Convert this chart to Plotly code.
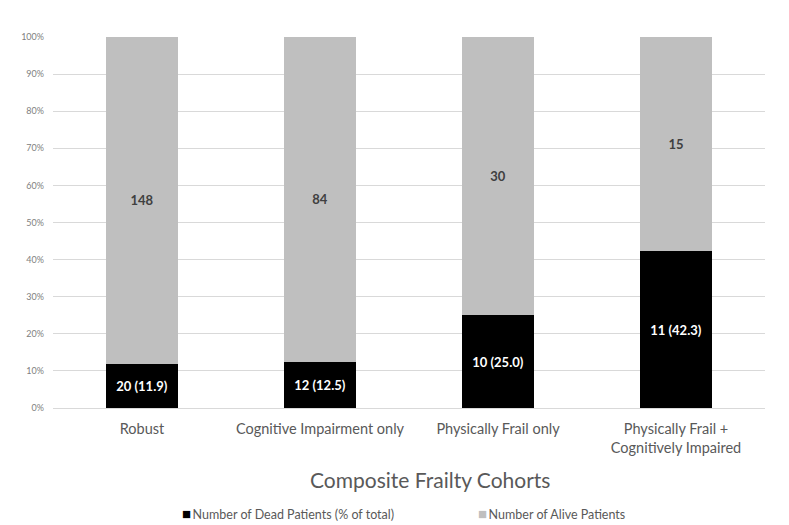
import plotly.graph_objects as go

categories = ["Robust", "Cognitive Impairment only", "Physically Frail only",
              "Physically Frail +<br>Cognitively Impaired"]
dead = [20, 12, 10, 11]
alive = [148, 84, 30, 15]
dead_pct_labels = ["11.9", "12.5", "25.0", "42.3"]
series_names = ["Number of Dead Patients (% of total)", "Number of Alive Patients"]
series_colors = ["#000000", "#bfbfbf"]
y_ticks = [0, 10, 20, 30, 40, 50, 60, 70, 80, 90, 100]
y_tick_labels = [f"{v}%" for v in y_ticks]

FONT = "Lato"

fig = go.Figure()
fig.add_trace(go.Bar(
    x=categories, y=dead, name=series_names[0], showlegend=False,
    marker=dict(color=series_colors[0], line=dict(width=0)),
    text=[f"{d} ({p})" for d, p in zip(dead, dead_pct_labels)],
    textposition="inside", insidetextanchor="middle", textangle=0,
    textfont=dict(family=FONT, size=13, color="white", weight="bold"),
    constraintext="none",
))
fig.add_trace(go.Bar(
    x=categories, y=alive, name=series_names[1], showlegend=False,
    marker=dict(color=series_colors[1], line=dict(width=0)),
    text=[str(a) for a in alive],
    textposition="inside", insidetextanchor="middle", textangle=0,
    textfont=dict(family=FONT, size=13, color="#404040", weight="bold"),
    constraintext="none",
))

# legend drawn as annotations (small squares tight to the text, as in the reference)
legend_x = [0.178, 0.594]
for name, col, lx in zip(series_names, series_colors, legend_x):
    fig.add_annotation(
        xref="paper", yref="paper", x=lx, y=-0.283, xanchor="left", yanchor="middle",
        text=(f"<span style='color:{col};font-size:15px'>■</span>"
              f"<span style='font-size:6px'> </span>{name}"),
        showarrow=False,
        font=dict(family=FONT, size=12.5, color="#595959"),
    )

# axis title, placed as in the reference (slightly right of the plot centre)
fig.add_annotation(
    xref="paper", yref="paper", x=0.53, y=-0.192, xanchor="center", yanchor="middle",
    text="Composite Frailty Cohorts", showarrow=False,
    font=dict(family=FONT, size=21, color="#595959"),
)

fig.update_layout(
    barmode="stack", barnorm="percent", bargap=0.595,
    width=781, height=517,
    margin=dict(l=45, r=24, t=29, b=117),
    paper_bgcolor="white", plot_bgcolor="white",
    font=dict(family=FONT, color="#595959"),
    showlegend=False,
    xaxis=dict(
        automargin=False,
        tickfont=dict(family=FONT, size=14.5, color="#595959"),
        ticklabelstandoff=8,
        showline=True, linecolor="#d9d9d9", linewidth=1, ticks="",
    ),
    yaxis=dict(
        automargin=False,
        range=[0, 100], tickvals=y_ticks, ticktext=y_tick_labels,
        tickfont=dict(family=FONT, size=9, color="#808080"),
        showgrid=True, gridcolor="#d9d9d9", gridwidth=1,
        zeroline=False, ticks="", ticklabelstandoff=8,
    ),
)

fig.write_html("out.html")
